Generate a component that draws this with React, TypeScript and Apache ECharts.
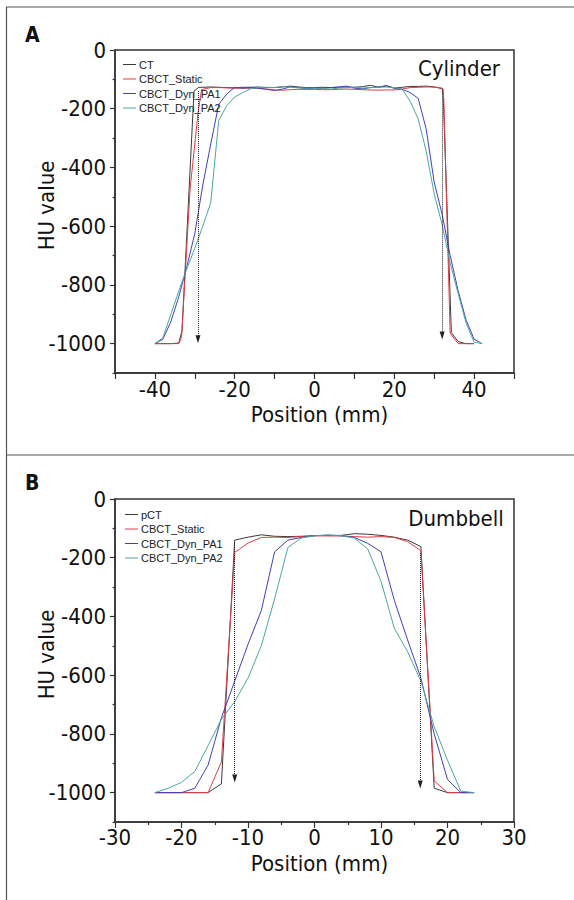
import React, { useEffect, useRef } from "react";
import * as echarts from "echarts";

// ---------- Panel A (Cylinder) ----------
const A_CT: [number, number][] = [
  [-40, -1000], [-38, -1000], [-36, -1000], [-34, -998], [-33.2, -955], [-30.2, -140], [-29, -127],
  [-28, -127], [-26, -126], [-24, -127], [-22, -128], [-20, -129], [-18, -127], [-16, -127],
  [-14, -126], [-12, -128], [-10, -128], [-8, -126], [-6, -123], [-4, -126], [-2, -128],
  [0, -128], [2, -127], [4, -128], [6, -127], [8, -126], [10, -127], [12, -125], [14, -120],
  [16, -127], [18, -121], [20, -130], [22, -127], [24, -124], [26, -124], [28, -123], [30, -126],
  [32.2, -132], [34.3, -962], [36, -993], [38, -1000], [40, -1000],
];
const A_STATIC: [number, number][] = [
  [-40, -1000], [-38, -1000], [-36, -1000], [-34, -1000], [-33.3, -976], [-31.2, -477],
  [-29.2, -215], [-28.3, -135], [-26, -128], [-24, -128], [-22, -129], [-20, -130], [-18, -130],
  [-16, -130], [-14, -131], [-12, -133], [-10, -136], [-8, -137], [-6, -135], [-4, -134],
  [-2, -134], [0, -134], [2, -135], [4, -135], [6, -134], [8, -133], [10, -134], [12, -135],
  [14, -136], [16, -137], [18, -136], [20, -136], [22, -133], [24, -128], [26, -127], [28, -126],
  [30, -126], [32, -130], [32.4, -165], [34, -964], [36, -1000], [38, -1000], [40, -1000],
];
const A_PA1: [number, number][] = [
  [-40, -1000], [-38, -985], [-36, -925], [-34, -840], [-32, -738], [-30, -625], [-28, -460],
  [-26, -320], [-24, -185], [-22, -150], [-20, -127], [-18, -130], [-16, -128], [-14, -130],
  [-12, -134], [-10, -138], [-8, -133], [-6, -125], [-4, -128], [-2, -132], [0, -130], [2, -130],
  [4, -128], [6, -126], [8, -123], [10, -130], [12, -132], [14, -128], [16, -126], [18, -123],
  [20, -130], [22, -134], [24, -145], [26, -165], [28, -270], [30, -450], [32, -560], [34, -700],
  [36, -820], [38, -920], [40, -985], [42, -1000],
];
const A_PA2: [number, number][] = [
  [-40, -1000], [-38, -980], [-36, -900], [-34, -820], [-32, -745], [-30, -675], [-28, -600],
  [-26, -520], [-24, -240], [-22, -190], [-20, -160], [-18, -145], [-16, -132], [-14, -128],
  [-12, -127], [-10, -128], [-8, -124], [-6, -127], [-4, -129], [-2, -130], [0, -130], [2, -131],
  [4, -133], [6, -130], [8, -128], [10, -127], [12, -130], [14, -128], [16, -127], [18, -126],
  [20, -128], [22, -134], [24, -175], [26, -235], [28, -345], [30, -490], [32, -595], [34, -725],
  [36, -830], [38, -930], [40, -995], [42, -1000],
];
// dotted arrows: [x, top HU, bottom HU]
const A_ARROWS: [number, number, number][] = [
  [-29.2, -140, -985],
  [32, -135, -972],
];

// ---------- Panel B (Dumbbell) ----------
const B_PCT: [number, number][] = [
  [-24, -1000], [-22, -1000], [-20, -1000], [-18, -1000], [-16, -1000], [-14, -970], [-12, -140],
  [-10, -130], [-8, -122], [-6, -127], [-4, -128], [-2, -127], [0, -125], [2, -124], [4, -124],
  [6, -118], [8, -120], [10, -124], [12, -130], [14, -140], [16, -162], [18, -985], [20, -1000],
  [22, -1000], [24, -1000],
];
const B_STATIC: [number, number][] = [
  [-24, -1000], [-22, -1000], [-20, -1000], [-18, -1000], [-16, -1000], [-14, -895], [-12, -182],
  [-10, -150], [-8, -131], [-6, -130], [-4, -131], [-2, -128], [0, -125], [2, -126], [4, -126],
  [6, -128], [8, -130], [10, -128], [12, -131], [14, -145], [16, -176], [18, -960], [20, -1000],
  [22, -1000], [24, -1000],
];
const B_PA1: [number, number][] = [
  [-24, -1000], [-22, -1000], [-20, -1000], [-18, -985], [-16, -906], [-14, -745], [-12, -620],
  [-10, -495], [-8, -380], [-6, -180], [-4, -140], [-2, -131], [0, -125], [2, -123], [4, -125],
  [6, -131], [8, -151], [10, -180], [12, -345], [14, -480], [16, -610], [18, -800], [20, -955],
  [22, -1000], [24, -1000],
];
const B_PA2: [number, number][] = [
  [-24, -1000], [-22, -985], [-20, -965], [-18, -928], [-16, -840], [-14, -750], [-12, -690],
  [-10, -610], [-8, -500], [-6, -340], [-4, -165], [-2, -133], [0, -125], [2, -123], [4, -125],
  [6, -133], [8, -170], [10, -280], [12, -440], [14, -520], [16, -620], [18, -775], [20, -890],
  [22, -995], [24, -1000],
];
const B_ARROWS: [number, number, number][] = [
  [-12, -150, -952],
  [15.9, -184, -972],
];

// ---------- axes ----------
const Y_LABELS = [0, -200, -400, -600, -800, -1000];
const Y_MINOR = [-100, -300, -500, -700, -900, -1100];
const LEGEND_A = ["CT", "CBCT_Static", "CBCT_Dyn_PA1", "CBCT_Dyn_PA2"];
const LEGEND_B = ["pCT", "CBCT_Static", "CBCT_Dyn_PA1", "CBCT_Dyn_PA2"];
const COLORS = ["#3a3a3a", "#e23b48", "#4040c0", "#4aa89c"];

function pickFont(cands: string[]): string | null {
  const ctx = document.createElement("canvas").getContext("2d");
  if (!ctx) return null;
  const sample = "HU value -1000 Position (mm)";
  for (const f of cands) {
    ctx.font = "40px monospace";
    const w0 = ctx.measureText(sample).width;
    ctx.font = `40px "${f}", monospace`;
    const w1 = ctx.measureText(sample).width;
    if (Math.abs(w1 - w0) > 0.5) return f;
  }
  return null;
}

export default function App() {
  const ref = useRef<HTMLDivElement>(null);
  useEffect(() => {
    if (!ref.current) return;
    const chart = echarts.init(ref.current, null, { renderer: "svg" });
    const narrow = pickFont(["Liberation Sans Narrow", "DejaVu Sans Condensed", "Roboto Condensed", "Open Sans Condensed"]);
    const F = narrow ? `"${narrow}", "Liberation Sans", sans-serif` : `"Liberation Sans", sans-serif`;
    const FS = narrow ? 22 : 19;
    const legendFont = `"Liberation Sans", Arial, sans-serif`;
    const axisColor = "#333";

    const makeX = (gi: number, min: number, max: number, isA: boolean) => ({
      type: "value",
      gridIndex: gi,
      min,
      max,
      interval: 10,
      name: "Position (mm)",
      nameLocation: "middle",
      nameGap: isA ? 32 : 32,
      nameMoveOverlap: false,
      nameTextStyle: { fontFamily: F, fontSize: FS, lineHeight: 18, color: "#111", padding: [0, 0, 0, 10] },
      axisLine: { show: true, onZero: false, lineStyle: { color: axisColor, width: 1.5 } },
      axisTick: { show: true, length: 6, lineStyle: { color: axisColor, width: 1.2 } },
      minorTick: isA ? { show: false } : { show: true, splitNumber: 2, length: 3, lineStyle: { color: axisColor, width: 1.2 } },
      splitLine: { show: false },
      minorSplitLine: { show: false },
      axisLabel: {
        margin: isA ? 7 : 6,
        fontFamily: F,
        fontSize: FS,
        lineHeight: 18,
        color: "#111",
        showMinLabel: true,
        showMaxLabel: true,
        formatter: (v: number) => (isA ? (Math.round(v) % 20 === 0 ? String(Math.round(v)) : "") : String(Math.round(v))),
      },
    });
    const makeY = (gi: number) => [
      {
        type: "value",
        gridIndex: gi,
        min: -1100,
        max: 0,
        position: "left",
        name: "HU value",
        nameLocation: "middle",
        nameGap: 58,
        nameMoveOverlap: false,
        nameTextStyle: { fontFamily: F, fontSize: FS, color: "#111", padding: [0, 0, 0, 12] },
        axisLine: { show: true, onZero: false, lineStyle: { color: axisColor, width: 1.5 } },
        axisTick: { show: true, length: 5, customValues: Y_LABELS, lineStyle: { color: axisColor, width: 1.2 } },
        splitLine: { show: false },
        axisLabel: {
          margin: 9,
          fontFamily: F,
          fontSize: FS,
          color: "#111",
          customValues: Y_LABELS,
          formatter: (v: number) => String(Math.round(v)),
        },
      },
      {
        type: "value",
        gridIndex: gi,
        min: -1100,
        max: 0,
        position: "left",
        axisLine: { show: false, onZero: false },
        axisTick: { show: true, length: 2.5, customValues: Y_MINOR, lineStyle: { color: axisColor, width: 1.2 } },
        splitLine: { show: false },
        axisLabel: { show: false },
      },
    ];

    const mkSeries = (name: string, data: [number, number][], color: string, xi: number, yi: number, arrows?: [number, number, number][]) => {
      const s: any = {
        type: "line",
        name,
        data,
        xAxisIndex: xi,
        yAxisIndex: yi,
        symbol: "none",
        showSymbol: false,
        lineStyle: { color, width: 1 },
        itemStyle: { color },
        emphasis: { disabled: true },
        z: 3,
      };
      if (arrows) {
        s.markLine = {
          silent: true,
          symbol: ["none", "triangle"],
          symbolSize: [5, 8],
          label: { show: false },
          emphasis: { disabled: true },
          lineStyle: { type: "dotted", color: "#222", width: 1 },
          itemStyle: { color: "#222" },
          data: arrows.map(([x, t, b]) => [{ coord: [x, t] }, { coord: [x, b] }]),
        };
      }
      return s;
    };

    const legendCommon = {
      orient: "vertical",
      itemWidth: 13,
      itemHeight: 8,
      itemGap: 3.5,
      icon: "path://M0,4 L13,4 L13,5 L0,5 Z",
      textStyle: { fontFamily: legendFont, fontSize: 11, color: "#222", padding: [0, 0, 0, -2] },
      selectedMode: false,
    };

    chart.setOption({
      animation: false,
      backgroundColor: "#fff",
      grid: [
        { left: 115, top: 50, width: 399, height: 323, show: true, borderColor: axisColor, borderWidth: 1.5, backgroundColor: "transparent", outerBoundsMode: "none" },
        { left: 115, top: 499, width: 399, height: 323, show: true, borderColor: axisColor, borderWidth: 1.5, backgroundColor: "transparent", outerBoundsMode: "none" },
      ],
      xAxis: [makeX(0, -50, 50, true), makeX(1, -30, 30, false)],
      yAxis: [...makeY(0), ...makeY(1)],
      legend: [
        { ...legendCommon, left: 118, top: 54, data: LEGEND_A },
        { ...legendCommon, left: 120, top: 504, data: LEGEND_B },
      ],
      series: [
        mkSeries("CT", A_CT, COLORS[0], 0, 0, A_ARROWS),
        mkSeries("CBCT_Static", A_STATIC, COLORS[1], 0, 0),
        mkSeries("CBCT_Dyn_PA1", A_PA1, COLORS[2], 0, 0),
        mkSeries("CBCT_Dyn_PA2", A_PA2, COLORS[3], 0, 0),
        mkSeries("pCT", B_PCT, COLORS[0], 1, 2, B_ARROWS),
        mkSeries("CBCT_Static", B_STATIC, COLORS[1], 1, 2),
        mkSeries("CBCT_Dyn_PA1", B_PA1, COLORS[2], 1, 2),
        mkSeries("CBCT_Dyn_PA2", B_PA2, COLORS[3], 1, 2),
      ],
      graphic: [
        { type: "line", shape: { x1: 6, y1: 7, x2: 574, y2: 7 }, style: { stroke: "#555", lineWidth: 1.2 }, silent: true },
        { type: "line", shape: { x1: 6.5, y1: 7, x2: 6.5, y2: 900 }, style: { stroke: "#555", lineWidth: 1.2 }, silent: true },
        { type: "line", shape: { x1: 6, y1: 455, x2: 574, y2: 455 }, style: { stroke: "#555", lineWidth: 1.2 }, silent: true },
        { type: "text", x: 25, y: 35, style: { text: "A", fontFamily: F, fontSize: 21, fontWeight: "bold", fill: "#111", align: "left", verticalAlign: "middle" }, silent: true },
        { type: "text", x: 25, y: 483, style: { text: "B", fontFamily: F, fontSize: 21, fontWeight: "bold", fill: "#111", align: "left", verticalAlign: "middle" }, silent: true },
        { type: "text", x: 459, y: 68, style: { text: "Cylinder", fontFamily: F, fontSize: FS, fill: "#111", align: "center", verticalAlign: "middle" }, silent: true },
        { type: "text", x: 456, y: 518, style: { text: "Dumbbell", fontFamily: F, fontSize: FS, fill: "#111", align: "center", verticalAlign: "middle" }, silent: true },
      ],
    });
    return () => chart.dispose();
  }, []);
  return <div ref={ref} style={{ position: "absolute", left: 0, top: 0, width: 574, height: 900 }} />;
}
